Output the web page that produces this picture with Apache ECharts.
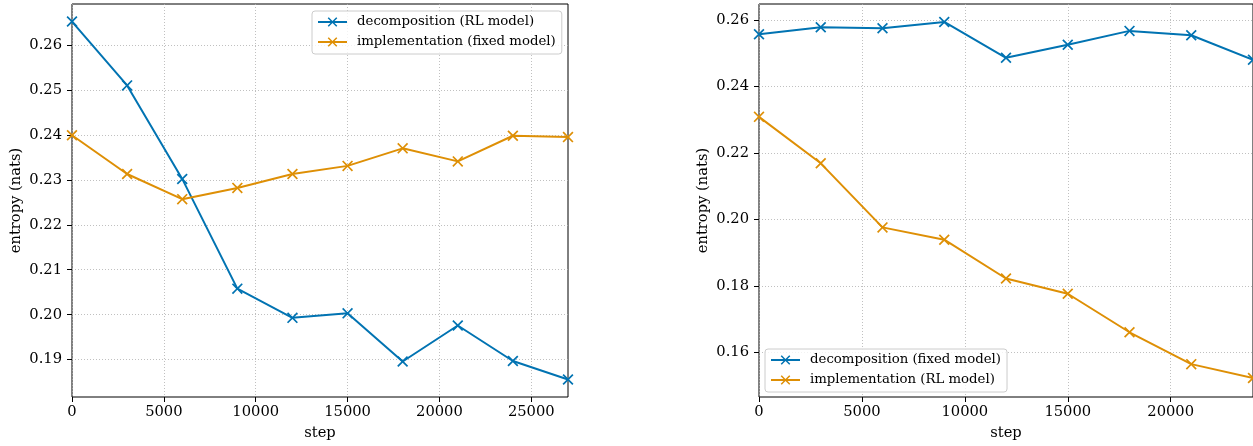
<!DOCTYPE html>
<html>
<head>
<meta charset="utf-8">
<title>entropy</title>
<script src="https://cdn.jsdelivr.net/npm/echarts@6/dist/echarts.min.js"></script>
<style>
  html, body { margin: 0; padding: 0; background: #fff; }
  #chart { width: 1253px; height: 446px; }
</style>
</head>
<body>
<div id="chart"></div>
<script>
// data
var stepsLeft = [0, 3000, 6000, 9000, 12000, 15000, 18000, 21000, 24000, 27000];
var decompRL = [0.2652, 0.2510, 0.2302, 0.2058, 0.1993, 0.2003, 0.1896, 0.1976, 0.1897, 0.1856];
var implFixed = [0.2399, 0.2313, 0.2257, 0.2282, 0.2313, 0.2331, 0.2370, 0.2341, 0.2398, 0.2395];

var stepsRight = [0, 3000, 6000, 9000, 12000, 15000, 18000, 21000, 24000];
var decompFixed = [0.2558, 0.2579, 0.2576, 0.2595, 0.2487, 0.2526, 0.2568, 0.2555, 0.2481];
var implRL = [0.2309, 0.2169, 0.1976, 0.1939, 0.1822, 0.1776, 0.1660, 0.1564, 0.1522];

var xTicksLeft = [0, 5000, 10000, 15000, 20000, 25000];
var xTicksRight = [0, 5000, 10000, 15000, 20000];
var yTicksLeft = [0.19, 0.20, 0.21, 0.22, 0.23, 0.24, 0.25, 0.26];
var yTicksRight = [0.16, 0.18, 0.20, 0.22, 0.24, 0.26];

var BLUE = "#0173b2";
var ORANGE = "#de8f05";
var FONT = "DejaVu Serif";
// matplotlib style "x" marker as a filled path (thin arms)
var XMARK = "path://M0,2.2 L2.2,0 L10,7.8 L17.8,0 L20,2.2 L12.2,10 L20,17.8 L17.8,20 L10,12.2 L2.2,20 L0,17.8 L7.8,10 Z";

function pairs(xs, ys) {
  return xs.map(function (x, i) { return [x, ys[i]]; });
}

function xAxisOpt(idx, max, ticks) {
  return {
    type: "value", gridIndex: idx, min: 0, max: max,
    name: "step", nameLocation: "middle", nameGap: 29,
    nameTextStyle: { fontFamily: FONT, fontSize: 14.7, color: "#000" },
    axisLine: { show: false },
    axisTick: { show: true, length: 5, customValues: ticks, lineStyle: { color: "#000", width: 1 } },
    axisLabel: {
      customValues: ticks, margin: 8, fontFamily: FONT, fontSize: 14.7, color: "#000",
      formatter: function (v) { return String(v); }
    },
    splitLine: { show: true, lineStyle: { color: "#b0b0b0", width: 0.8, type: [1, 2] } }
  };
}

function yAxisOpt(idx, min, max, ticks) {
  return {
    type: "value", gridIndex: idx, min: min, max: max,
    name: "entropy (nats)", nameLocation: "middle", nameGap: 48,
    nameTextStyle: { fontFamily: FONT, fontSize: 14.7, color: "#000" },
    axisLine: { show: false },
    axisTick: { show: true, length: 5, customValues: ticks, lineStyle: { color: "#000", width: 1 } },
    axisLabel: {
      customValues: ticks, margin: 10, fontFamily: FONT, fontSize: 14.7, color: "#000",
      formatter: function (v) { return v.toFixed(2); }
    },
    splitLine: { show: true, lineStyle: { color: "#b0b0b0", width: 0.8, type: [1, 2] } }
  };
}

function lineSeries(name, idx, xs, ys, color) {
  return {
    name: name, type: "line", xAxisIndex: idx, yAxisIndex: idx,
    data: pairs(xs, ys),
    symbol: XMARK, symbolSize: 11,
    lineStyle: { color: color, width: 2 },
    itemStyle: { color: color, borderWidth: 0 },
    emphasis: { disabled: true },
    animation: false
  };
}

function legendOpt(names, left, top) {
  return {
    data: names, orient: "vertical", left: left, top: top,
    itemWidth: 29, itemHeight: 12, itemGap: 6,
    padding: [4, 6, 5, 5],
    backgroundColor: "rgba(255,255,255,0.8)",
    borderColor: "#cccccc", borderWidth: 1, borderRadius: 3,
    textStyle: { fontFamily: FONT, fontSize: 13.3, color: "#000", padding: [0, 0, 0, 5], lineHeight: 14 },
    selectedMode: false
  };
}

var chart = echarts.init(document.getElementById("chart"), null, { renderer: "canvas" });

chart.setOption({
  backgroundColor: "#fff",
  animation: false,
  grid: [
    { left: 72, top: 4, width: 496, height: 395, show: true, borderColor: "#000", borderWidth: 1, backgroundColor: "transparent" },
    { left: 759, top: 4, width: 495, height: 395, show: true, borderColor: "#000", borderWidth: 1, backgroundColor: "transparent" }
  ],
  xAxis: [
    xAxisOpt(0, 27000, xTicksLeft),
    xAxisOpt(1, 24000, xTicksRight)
  ],
  yAxis: [
    yAxisOpt(0, 0.1817, 0.2691, yTicksLeft),
    yAxisOpt(1, 0.1465, 0.2649, yTicksRight)
  ],
  legend: [
    legendOpt(["decomposition (RL model)", "implementation (fixed model)"], 312, 11),
    legendOpt(["decomposition (fixed model)", "implementation (RL model)"], 765, 349)
  ],
  series: [
    lineSeries("decomposition (RL model)", 0, stepsLeft, decompRL, BLUE),
    lineSeries("implementation (fixed model)", 0, stepsLeft, implFixed, ORANGE),
    lineSeries("decomposition (fixed model)", 1, stepsRight, decompFixed, BLUE),
    lineSeries("implementation (RL model)", 1, stepsRight, implRL, ORANGE)
  ]
});
</script>
</body>
</html>
